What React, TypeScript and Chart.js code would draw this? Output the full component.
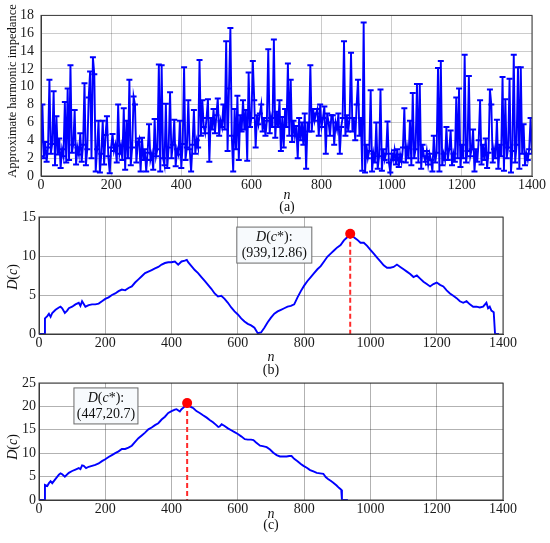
import React, { useEffect, useRef } from "react";
import { Chart, registerables } from "chart.js";
Chart.register(...registerables);

const FONT = "'Liberation Serif', 'Times New Roman', serif";
const BLUE = "#0000ff";

// Panel (a): approximate harmonic impedance, sampled every 4 points of n (n = 0..1400)
const impedanceStep = 4;
const impedance = [
  2.2, 8.0, 2.0, 3.8, 1.6, 3.2, 10.8, 2.5, 3.6, 9.5,
  1.2, 6.7, 2.4, 4.2, 0.9, 3.0, 2.2, 8.3, 1.5, 9.8,
  1.8, 12.4, 2.6, 3.5, 7.4, 1.3, 3.2, 2.4, 4.8, 1.6,
  3.5, 10.4, 1.2, 3.0, 8.8, 11.7, 2.0, 13.3, 11.4, 0.5,
  3.0, 6.2, 0.4, 2.5, 6.2, 1.3, 4.6, 6.7, 2.2, 0.3,
  3.2, 4.7, 2.8, 3.5, 1.5, 8.0, 2.5, 3.4, 1.8, 7.6,
  0.7, 6.2, 2.0, 10.8, 1.2, 3.2, 8.9, 8.0, 1.5, 3.8,
  4.2, 0.5, 4.3, 1.8, 3.0, 0.5, 2.6, 5.8, 1.8, 2.5,
  0.7, 6.4, 2.2, 3.0, 12.5, 0.5, 12.4, 2.0, 1.2, 8.1,
  0.9, 3.2, 9.4, 2.0, 3.5, 6.3, 1.1, 3.0, 2.4, 6.2,
  0.9, 3.6, 12.2, 1.8, 3.2, 8.5, 3.0, 0.5, 3.5, 7.4,
  2.5, 4.0, 3.2, 13.0, 4.5, 8.5, 5.5, 4.8, 6.5, 8.6,
  1.6, 6.5, 5.2, 7.5, 4.8, 6.8, 8.7, 4.5, 6.2, 5.5,
  8.0, 5.2, 15.1, 2.8, 9.8, 16.6, 4.5, 0.5, 7.5, 3.0,
  9.0, 1.8, 6.8, 5.0, 8.5, 5.2, 7.4, 1.7, 11.6, 5.5,
  6.5, 12.9, 8.5, 3.2, 6.8, 5.8, 7.0, 8.0, 5.0, 6.5,
  4.5, 6.2, 14.2, 4.8, 6.5, 5.5, 15.3, 4.3, 7.2, 5.5,
  8.5, 2.8, 6.6, 3.2, 7.5, 5.5, 12.6, 4.5, 10.8, 3.8,
  6.2, 4.5, 5.6, 2.0, 6.5, 4.0, 6.0, 3.5, 7.0, 0.8,
  6.0, 5.0, 12.4, 5.0, 7.5, 6.2, 7.0, 7.5, 4.5, 8.0,
  5.5, 6.5, 7.8, 2.5, 7.0, 6.0, 4.5, 6.8, 6.8, 3.5,
  6.0, 5.2, 7.0, 2.5, 5.5, 6.5, 15.1, 4.5, 6.8, 5.0,
  6.5, 13.8, 5.0, 6.5, 4.0, 8.0, 10.8, 4.5, 6.5, 0.6,
  17.2, 0.4, 3.5, 2.0, 2.8, 9.6, 0.5, 2.5, 1.5, 6.0,
  0.8, 2.2, 9.7, 0.6, 3.0, 1.8, 2.5, 6.1, 1.5, 0.4,
  2.5, 1.8, 2.9, 1.3, 3.0, 1.0, 2.4, 1.6, 3.2, 7.6,
  1.5, 3.2, 2.0, 6.2, 1.2, 9.3, 2.0, 3.0, 10.3, 1.5,
  10.3, 0.8, 3.5, 2.2, 1.6, 2.8, 1.3, 2.5, 1.8, 0.5,
  4.5, 1.5, 2.6, 12.1, 0.5, 12.9, 1.2, 2.5, 1.8, 5.5,
  1.8, 3.0, 5.1, 1.2, 2.5, 1.6, 8.8, 2.0, 9.8, 1.0,
  3.5, 2.0, 13.6, 1.5, 2.8, 11.2, 2.2, 3.0, 5.2, 0.5,
  3.0, 1.6, 4.0, 8.5, 1.3, 3.5, 1.8, 4.2, 0.9, 2.6,
  9.7, 8.0, 1.5, 3.0, 2.0, 6.3, 0.8, 3.5, 2.2, 11.1,
  0.6, 8.6, 2.0, 3.2, 10.9, 0.4, 2.8, 13.6, 1.5, 3.5,
  12.2, 0.8, 12.2, 2.5, 5.8, 1.2, 2.5, 1.8, 3.0, 6.5,
  2.5,
];
const aYMax = 18;
const aYStep = 2;

// Panel (b): D(c) over the full record
const bN = [
  0, 16, 18, 25, 30, 35, 40, 50, 60, 65, 70, 78, 85, 90, 100, 110, 120, 125, 130, 140,
  150, 160, 170, 180, 190, 200, 210, 220, 230, 240, 250, 260, 270, 280, 290, 300, 310, 320, 330, 340,
  350, 360, 370, 380, 390, 400, 410, 420, 430, 440, 446, 450, 460, 470, 480, 490, 500, 510, 520, 530,
  540, 550, 560, 570, 580, 590, 600, 610, 620, 630, 640, 650, 660, 670, 680, 690, 700, 710, 720, 730,
  740, 750, 760, 770, 780, 790, 800, 810, 820, 830, 840, 850, 860, 870, 880, 890, 900, 910, 920, 930,
  939, 950, 960, 970, 980, 990, 1000, 1010, 1020, 1030, 1040, 1050, 1060, 1070, 1080, 1090, 1100, 1110, 1120, 1130,
  1140, 1150, 1160, 1170, 1180, 1190, 1200, 1210, 1220, 1230, 1240, 1250, 1260, 1270, 1280, 1290, 1300, 1310, 1320, 1330,
  1340, 1350, 1355, 1360, 1365, 1372, 1376, 1388,
];
const bD = [
  0, 0, 2.0, 2.3, 2.6, 2.2, 2.7, 3.1, 3.4, 3.5, 3.3, 2.7, 3.0, 3.3, 3.5, 3.8, 4.0, 3.6, 4.2, 3.5,
  3.7, 3.8, 3.8, 3.9, 4.2, 4.5, 4.7, 5.0, 5.2, 5.5, 5.7, 5.6, 5.9, 6.1, 6.6, 7.0, 7.4, 7.8, 8.0, 8.2,
  8.4, 8.6, 8.9, 9.1, 9.2, 9.2, 9.3, 8.9, 9.3, 9.4, 9.5, 9.2, 8.7, 8.2, 7.8, 7.3, 6.8, 6.3, 5.8, 5.2,
  4.8, 4.9, 4.5, 4.0, 3.4, 2.9, 2.5, 2.0, 1.6, 1.3, 1.1, 0.8, 0.1, 0.2, 0.8, 1.5, 2.1, 2.6, 2.9, 3.1,
  3.3, 3.5, 3.6, 3.8, 4.7, 5.5, 6.2, 6.8, 7.3, 7.8, 8.3, 8.7, 9.3, 9.9, 10.3, 10.7, 11.1, 11.4, 12.0, 12.4,
  12.86, 12.4, 12.1, 11.7, 11.7, 11.3, 10.8, 10.3, 9.8, 9.3, 8.8, 8.5, 8.5, 8.6, 8.9, 8.6, 8.3, 8.0, 7.7, 7.3,
  7.5, 7.1, 6.7, 6.4, 6.1, 6.4, 6.6, 6.3, 6.1, 5.6, 5.2, 4.9, 4.6, 4.2, 4.0, 4.2, 3.8, 3.5, 3.5, 3.4,
  3.5, 4.0, 3.3, 3.5, 3.0, 2.8, 0, 0,
];
const bYMax = 15;
const bPeak = { n: 939, d: 12.86, label: "(939,12.86)", boxN: 710, boxD: 11.4 };

// Panel (c): D(c) over the first segment
const cN = [
  0, 16, 18, 25, 30, 35, 40, 50, 60, 65, 70, 78, 90, 100, 110, 120, 125, 130, 135, 142,
  150, 160, 170, 180, 190, 200, 210, 220, 230, 240, 250, 260, 270, 280, 290, 300, 310, 320, 330, 340,
  350, 360, 370, 380, 390, 400, 410, 415, 425, 430, 440, 447, 455, 466, 475, 485, 495, 506, 515, 525,
  535, 541, 545, 551, 560, 570, 580, 590, 600, 610, 621, 630, 640, 647, 655, 667, 675, 687, 697, 707,
  717, 727, 737, 747, 755, 762, 770, 780, 790, 798, 808, 818, 828, 838, 848, 858, 865, 872, 880, 888,
  898, 905, 912, 914, 932,
];
const cD = [
  0, 0, 3.2, 3.0, 3.6, 4.0, 3.6, 4.5, 5.4, 5.7, 5.5, 5.0, 5.8, 6.2, 6.5, 6.8, 6.6, 7.4, 7.3, 6.8,
  7.1, 7.3, 7.5, 7.8, 8.3, 8.7, 9.2, 9.6, 10.0, 10.4, 10.9, 10.9, 11.2, 11.6, 12.4, 13.2, 13.8, 14.4, 15.1, 15.5,
  16.0, 16.4, 17.2, 17.8, 18.6, 19.0, 19.3, 19.4, 18.9, 19.4, 20.0, 20.7, 20.0, 19.6, 19.0, 18.6, 18.1, 17.6, 17.1, 16.6,
  16.0, 15.6, 15.7, 16.2, 15.8, 15.3, 14.9, 14.5, 14.1, 13.6, 13.0, 12.9, 12.9, 12.8, 12.3, 11.6, 11.5, 11.3, 10.8, 10.1,
  9.6, 9.3, 9.3, 9.3, 9.4, 9.4, 8.8, 8.3, 7.7, 7.3, 6.9, 6.4, 6.1, 5.8, 5.7, 5.6, 4.9, 4.5, 4.1, 3.7,
  3.1, 2.6, 2.2, 0, 0,
];
const cYMax = 25;
const cPeak = { n: 447, d: 20.7, label: "(447,20.7)", boxN: 202, boxD: 20.1 };

const dYStep = 5;
const xMin = 0;
const xMax = 1400;
const xStep = 200;

const framePlugin = {
  id: "frame",
  afterDraw(chart: any) {
    const { ctx, chartArea: a } = chart;
    ctx.save();
    ctx.strokeStyle = "#3a3a3a";
    ctx.lineWidth = 1;
    ctx.strokeRect(a.left, a.top, a.right - a.left, a.bottom - a.top);
    ctx.restore();
  },
};

const peakPlugin = {
  id: "peakBox",
  afterDatasetsDraw(chart: any, _args: any, opts: any) {
    if (!opts || !opts.peak) return;
    const { ctx } = chart;
    const xs = chart.scales.x;
    const ys = chart.scales.y;
    const p = opts.peak;
    const px = xs.getPixelForValue(p.n);
    const py = ys.getPixelForValue(p.d);
    const p0 = ys.getPixelForValue(0);
    ctx.save();
    ctx.strokeStyle = "#ff2a2a";
    ctx.lineWidth = 2;
    ctx.setLineDash([5, 3]);
    ctx.beginPath();
    ctx.moveTo(px, py);
    ctx.lineTo(px, p0);
    ctx.stroke();
    ctx.setLineDash([]);
    ctx.fillStyle = "#ff0000";
    ctx.beginPath();
    ctx.arc(px, py, 5, 0, Math.PI * 2);
    ctx.fill();
    const bx = xs.getPixelForValue(p.boxN);
    const by = ys.getPixelForValue(p.boxD);
    const w = opts.boxW;
    const h = 36;
    ctx.fillStyle = "#f7fafd";
    ctx.strokeStyle = "#6a6a6a";
    ctx.lineWidth = 1;
    ctx.fillRect(bx - w / 2, by - h / 2, w, h);
    ctx.strokeRect(bx - w / 2, by - h / 2, w, h);
    ctx.fillStyle = "#111";
    ctx.textBaseline = "middle";
    const parts = [
      { t: "D", it: true },
      { t: "(", it: false },
      { t: "c", it: true },
      { t: "*):", it: false },
    ];
    let total = 0;
    for (const s of parts) {
      ctx.font = (s.it ? "italic " : "") + "14px " + FONT;
      total += ctx.measureText(s.t).width;
    }
    let cx = bx - total / 2;
    for (const s of parts) {
      ctx.font = (s.it ? "italic " : "") + "14px " + FONT;
      ctx.textAlign = "left";
      ctx.fillText(s.t, cx, by - 8);
      cx += ctx.measureText(s.t).width;
    }
    ctx.font = "14px " + FONT;
    ctx.textAlign = "center";
    ctx.fillText(p.label, bx, by + 8);
    ctx.restore();
  },
};

function makeOptions(cfg: {
  padTop: number;
  padRight: number;
  yWidth: number;
  xHeight: number;
  yMax: number;
  yStep: number;
  yPad: number;
  gridColor: string;
  peak?: any;
  boxW?: number;
}): any {
  return {
    responsive: false,
    animation: false,
    events: [],
    layout: { padding: { top: cfg.padTop, right: cfg.padRight, left: 0, bottom: 0 } },
    plugins: {
      legend: { display: false },
      tooltip: { enabled: false },
      peakBox: cfg.peak ? { peak: cfg.peak, boxW: cfg.boxW } : {},
    },
    scales: {
      x: {
        type: "linear",
        min: xMin,
        max: xMax,
        ticks: {
          stepSize: xStep,
          font: { family: FONT, size: 14 },
          color: "#1a1a1a",
          padding: 1,
          maxRotation: 0,
          autoSkip: false,
          callback: (v: any) => String(v),
        },
        grid: { color: cfg.gridColor, lineWidth: 1, drawTicks: false },
        border: { display: true, color: "#3a3a3a" },
        afterFit: (s: any) => {
          s.height = cfg.xHeight;
        },
      },
      y: {
        type: "linear",
        min: 0,
        max: cfg.yMax,
        ticks: {
          stepSize: cfg.yStep,
          font: { family: FONT, size: 14 },
          color: "#1a1a1a",
          padding: cfg.yPad,
          autoSkip: false,
          callback: (v: any) => String(v),
        },
        grid: { color: cfg.gridColor, lineWidth: 1, drawTicks: false },
        border: { display: true, color: "#3a3a3a" },
        afterFit: (s: any) => {
          s.width = cfg.yWidth;
        },
      },
    },
  };
}

function Panel(props: { top: number; height: number; build: () => any }) {
  const ref = useRef<HTMLCanvasElement | null>(null);
  useEffect(() => {
    if (!ref.current) return;
    const chart = new Chart(ref.current, props.build());
    return () => chart.destroy();
  }, []);
  return (
    <canvas
      ref={ref}
      width={550}
      height={props.height}
      style={{ position: "absolute", left: 0, top: props.top, width: 550, height: props.height }}
    />
  );
}

const txt = (style: React.CSSProperties, children: React.ReactNode) => (
  <div
    style={{
      position: "absolute",
      fontFamily: FONT,
      fontSize: 14,
      color: "#111",
      whiteSpace: "nowrap",
      lineHeight: "16px",
      ...style,
    }}
  >
    {children}
  </div>
);

export default function App() {
  const buildA = () => ({
    type: "line",
    data: {
      datasets: [
        {
          data: impedance.map((v, i) => ({ x: i * impedanceStep, y: v })),
          borderColor: BLUE,
          borderWidth: 1.9,
          pointStyle: "line",
          pointRadius: 3,
          pointBorderColor: BLUE,
          pointBorderWidth: 2,
          tension: 0,
        },
      ],
    },
    options: makeOptions({
      padTop: 13,
      padRight: 18,
      yWidth: 41,
      xHeight: 18,
      yMax: aYMax,
      yStep: aYStep,
      yPad: 7,
      gridColor: "rgba(0,0,0,0.2)",
    }),
    plugins: [framePlugin],
  });
  const buildB = () => ({
    type: "line",
    data: {
      datasets: [
        {
          data: bN.map((n, i) => ({ x: n, y: bD[i] })),
          borderColor: BLUE,
          borderWidth: 1.9,
          pointRadius: 0,
          tension: 0,
        },
      ],
    },
    options: makeOptions({
      padTop: 17,
      padRight: 47,
      yWidth: 39,
      xHeight: 18,
      yMax: bYMax,
      yStep: dYStep,
      yPad: 3,
      gridColor: "rgba(0,0,0,0.3)",
      peak: bPeak,
      boxW: 75,
    }),
    plugins: [framePlugin, peakPlugin],
  });
  const buildC = () => ({
    type: "line",
    data: {
      datasets: [
        {
          data: cN.map((n, i) => ({ x: n, y: cD[i] })),
          borderColor: BLUE,
          borderWidth: 1.9,
          pointRadius: 0,
          tension: 0,
        },
      ],
    },
    options: makeOptions({
      padTop: 17,
      padRight: 47,
      yWidth: 39,
      xHeight: 18,
      yMax: cYMax,
      yStep: dYStep,
      yPad: 3,
      gridColor: "rgba(0,0,0,0.3)",
      peak: cPeak,
      boxW: 64,
    }),
    plugins: [framePlugin, peakPlugin],
  });

  const rot = (cx: number, cy: number, children: React.ReactNode, size = 14) =>
    txt(
      {
        left: cx,
        top: cy,
        fontSize: size,
        transform: "translate(-50%, -50%) rotate(-90deg)",
      },
      children
    );
  const center = (cx: number, cy: number, children: React.ReactNode) =>
    txt({ left: cx, top: cy, transform: "translate(-50%, -50%)" }, children);

  const Dc = (
    <span>
      <i>D</i>(<i>c</i>)
    </span>
  );

  return (
    <div style={{ position: "absolute", left: 0, top: 0, width: 550, height: 543, background: "#fff", overflow: "hidden" }}>
      <Panel top={0} height={194} build={buildA} />
      <Panel top={200} height={152} build={buildB} />
      <Panel top={366} height={152} build={buildC} />
      {rot(12, 91, "Approximate harmonic impedance", 12.5)}
      {center(287, 195, <i>n</i>)}
      {center(287, 207, "(a)")}
      {rot(13, 277, Dc)}
      {center(271, 357, <i>n</i>)}
      {center(271, 370, "(b)")}
      {rot(13, 447, Dc)}
      {center(271, 514, <i>n</i>)}
      {center(271, 525, "(c)")}
    </div>
  );
}
